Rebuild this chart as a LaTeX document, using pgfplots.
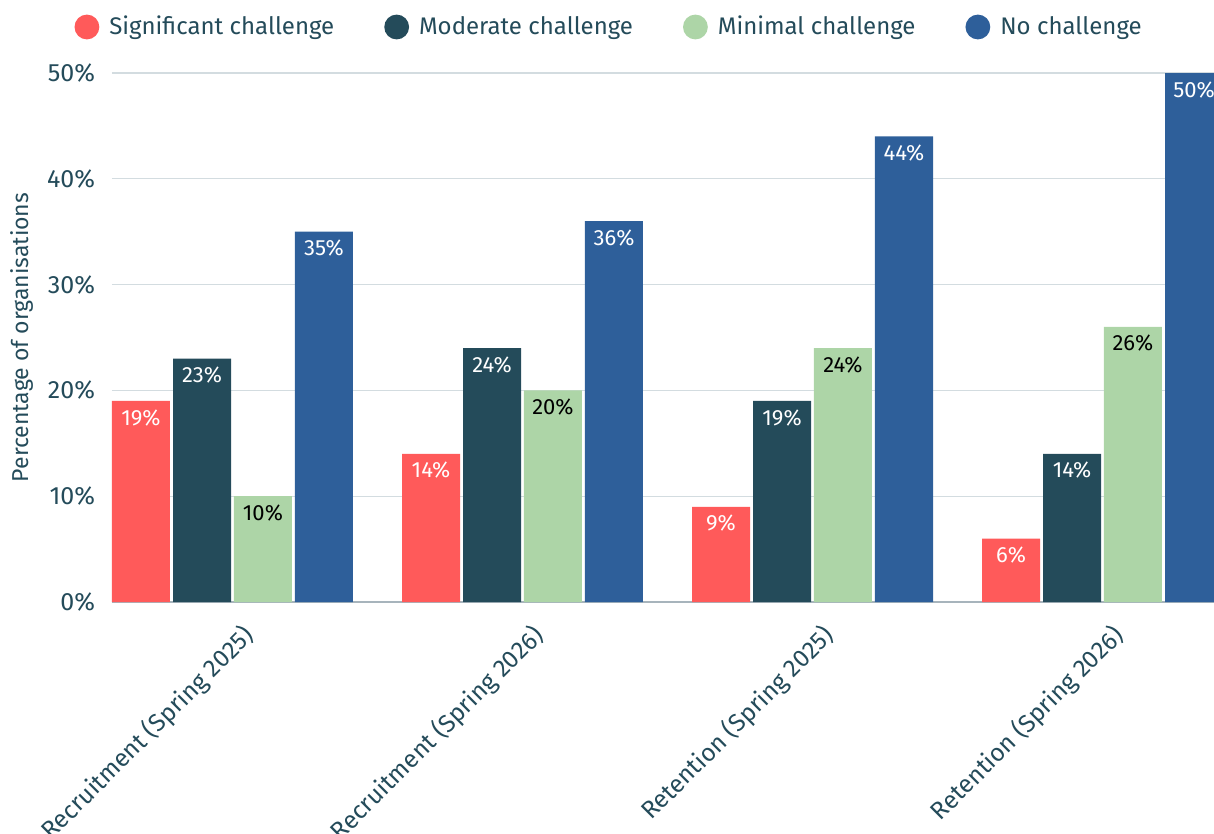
\documentclass[border=0pt]{standalone}
\usepackage{pgfplots}
\pgfplotsset{compat=1.18}
\usepackage{fontspec}
\setmainfont{Fira Sans}
\definecolor{textc}{HTML}{244B5A}
\definecolor{cred}{HTML}{FF5A5A}
\definecolor{cdark}{HTML}{244B5A}
\definecolor{cgreen}{HTML}{ADD5A7}
\definecolor{cblue}{HTML}{2E5F9A}
\definecolor{gridc}{HTML}{D3DCE0}
\definecolor{axc}{HTML}{A7B4BC}
\pgfplotsset{circlegend/.style={legend image code/.code={\fill[##1,draw=none] (0pt,0pt) circle (6.2pt);}}}
\begin{document}
\begin{tikzpicture}
\begin{axis}[
  name=ax,
  scale only axis, width=551pt, height=264.5pt,
  xmin=-0.4155, xmax=3.3845, ymin=0, ymax=50,
  ybar, bar width=0.2,
  axis x line=bottom, axis y line=left,
  y axis line style={draw=none},
  x axis line style={-, draw=axc, line width=0.8pt},
  major tick length=0pt,
  ytick={0,10,20,30,40,50},
  yticklabel={\pgfmathprintnumber{\tick}\%},
  /pgf/number format/assume math mode=true,
  ymajorgrids, grid style={gridc, line width=0.6pt},
  xtick={0,1,2,3},
  xticklabels={Recruitment (Spring 2025),Recruitment (Spring 2026),Retention (Spring 2025),Retention (Spring 2026)},
  x tick label style={rotate=45, anchor=north east, font=\fontsize{12.3}{14}\selectfont, text=textc, xshift=-1pt, yshift=-6.5pt},
  y tick label style={font=\fontsize{12.5}{14}\selectfont, text=textc, xshift=-5pt},
  ylabel={Percentage of organisations},
  ylabel style={font=\fontsize{11.5}{13}\selectfont, text=textc, yshift=0pt},
  nodes near coords={\pgfmathprintnumber{\pgfplotspointmeta}\%},
  every node near coord/.append style={anchor=north, font=\fontsize{11}{13}\selectfont, inner sep=3pt, yshift=-1pt},
  circlegend,
  legend columns=4,
  legend style={draw=none, at={(0.452,1)}, anchor=center, yshift=23pt, font=\fontsize{12}{14}\selectfont, text=textc,
    /tikz/every odd column/.append style={column sep=3pt},
    /tikz/every even column/.append style={column sep=23pt}},
]
\addplot[fill=cred, draw=none, bar shift=-0.3155, every node near coord/.append style={text=white}] coordinates {(0,19) (1,14) (2,9) (3,6)};
\addlegendentry{Significant challenge}
\addplot[fill=cdark, draw=none, bar shift=-0.105, every node near coord/.append style={text=white}] coordinates {(0,23) (1,24) (2,19) (3,14)};
\addlegendentry{Moderate challenge}
\addplot[fill=cgreen, draw=none, bar shift=0.105, every node near coord/.append style={text=black}] coordinates {(0,10) (1,20) (2,24) (3,26)};
\addlegendentry{Minimal challenge}
\addplot[fill=cblue, draw=none, bar shift=0.3155, every node near coord/.append style={text=white}] coordinates {(0,35) (1,36) (2,44) (3,50)};
\addlegendentry{No challenge}
\end{axis}
\pgfresetboundingbox
\path[use as bounding box] ([shift={(-56pt,-116pt)}]ax.south west) rectangle ([shift={(0pt,36.5pt)}]ax.north east);
\end{tikzpicture}
\end{document}
